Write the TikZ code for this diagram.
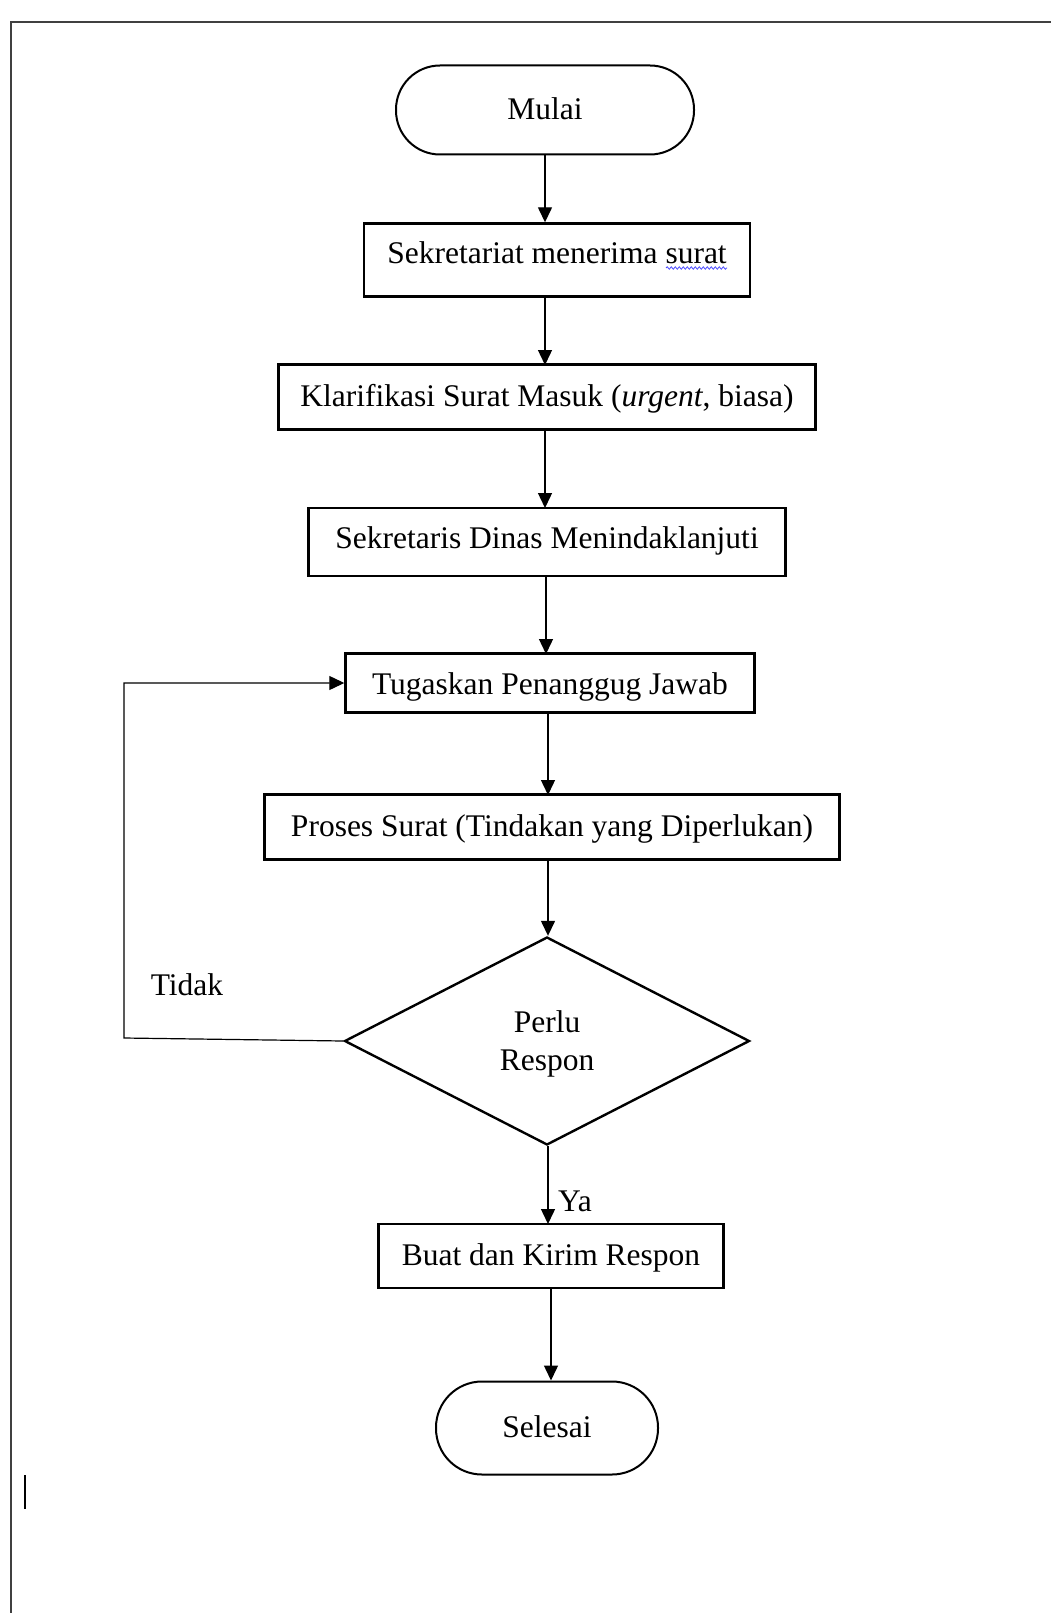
\documentclass[tikz,border=0pt]{standalone}
\usepackage{fontspec}
\setmainfont{Liberation Serif}
\usetikzlibrary{positioning,arrows.meta,shapes.geometric,decorations.pathmorphing}

\begin{document}
\begin{tikzpicture}[x=1pt,y=-1pt,font=\fontsize{31.5}{38}\selectfont,
    box/.style={draw,line width=2.4pt,inner sep=0pt,text height=20pt,text depth=1.5pt},
    term/.style={draw,line width=2pt,inner sep=0pt,rounded corners=#1,text height=20pt,text depth=1.5pt},
    keputusan/.style={draw,diamond,line width=2.4pt,inner sep=0pt,align=center},
    panah/.style={-{Triangle[length=15pt,width=14pt]},line width=1.4pt}]

    \useasboundingbox (0,0) rectangle (1051,1613);
    % bingkai halaman
    \draw[line width=2pt,black!75] (11,1613) -- (11,22) -- (1051,22);
    \draw[line width=1.6pt] (25,1475) -- (25,1509);

    % simpul alur
    \node[term=44pt,minimum width=298pt,minimum height=89pt] (mulai) at (545,110) {Mulai};
    \node[box,minimum width=386pt,minimum height=73pt,text height=8pt] (terima) at (557,260) {Sekretariat menerima surat};
    \node[box,minimum width=537pt,minimum height=65pt] (klarif) at (547,397) {Klarifikasi Surat Masuk (\textit{urgent}, biasa)};
    \node[box,minimum width=477pt,minimum height=68pt,text height=14pt] (sekdin) at (547,542) {Sekretaris Dinas Menindaklanjuti};
    \node[box,minimum width=409pt,minimum height=59pt,text height=24pt] (tugas) at (550,683) {Tugaskan Penanggug Jawab};
    \node[box,minimum width=575pt,minimum height=65pt] (proses) at (552,827) {Proses Surat (Tindakan yang Diperlukan)};
    \node[keputusan,minimum width=405pt,minimum height=208pt,aspect=1.95] (cek) at (547,1041) {};
    \node[align=center,inner sep=0pt] (cektxt) at (547,1044) {Perlu\\Respon};
    \node[box,minimum width=345pt,minimum height=64pt] (kirim) at (551,1256) {Buat dan Kirim Respon};
    \node[term=46pt,minimum width=222pt,minimum height=93pt] (selesai) at (547,1428) {Selesai};

    % garis bawah ejaan
    \draw[blue!70,line width=0.8pt,decorate,decoration={snake,segment length=4pt,amplitude=1.2pt}]
        (666,268) -- (727,268);

    % panah
    \draw[panah] (mulai.south) -- (mulai.south |- terima.north);
    \draw[panah] (545,296) -- (545,365);
    \draw[panah] (545,430) -- (545,508);
    \draw[panah] (546,576) -- (546,654);
    \draw[panah] (548,713) -- (548,795);
    \draw[panah] (548,860) -- (cek.north -| 548,0);
    \draw[panah] (cek.south -| 548,0) -- (548,1224);
    \draw[panah] (kirim.south -| 551,0) -- (selesai.north -| 551,0);
    \draw[panah,line width=1.2pt] (cek.west) -- (124,1038) |- (tugas.west);

    \node (tidak) at (187,985) {Tidak};
    \node (ya) at (575,1201) {Ya};
\end{tikzpicture}
\end{document}
